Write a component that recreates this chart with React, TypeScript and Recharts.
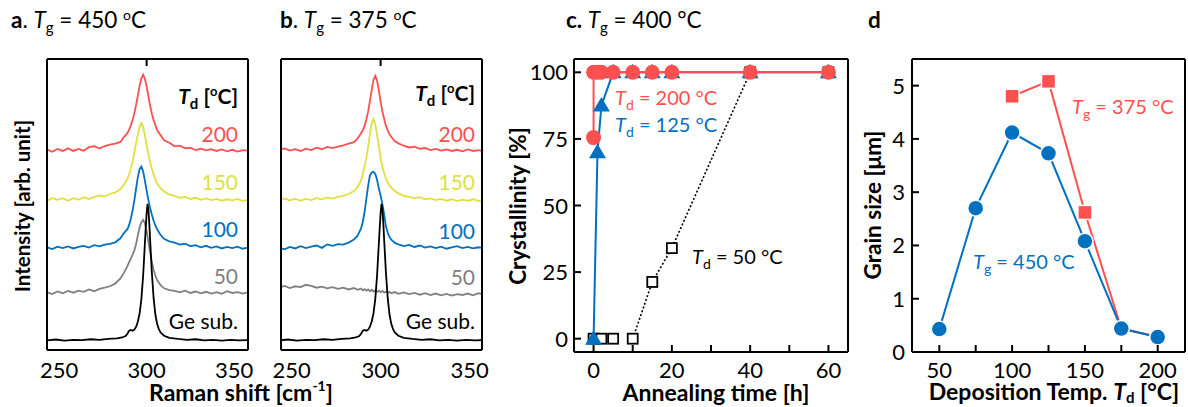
import React from 'react';
import { LineChart, ComposedChart, Line, XAxis, YAxis } from 'recharts';

const FONT = "Lato, 'Open Sans', sans-serif";
const RED = '#FF5050';
const BLUE = '#0070C0';
const YELLOW = '#E0E040';
const GRAY = '#808080';
const BLACK = '#000000';
const H = 407;

// ---------- Panels a / b : Raman spectra (stacked, arbitrary units) ----------
const ramanShift = [243,246,249,252,255,258,261,264,267,270,273,276,279,282,285,287,289,290,291,292,293,294,295,296,297,298,299,300,301,302,303,304,305,306,308,310,313,316,319,322,325,328,331,334,337,340,343,346,349,352,355,358];

const a200 = [68.9,68.1,69.1,68.4,69.3,68.4,69.1,68.5,69.7,70.0,69.2,70.1,70.6,70.9,71.5,73.2,74.5,75.7,77.2,79.1,81.4,84.3,87.5,90.8,93.4,94.6,93.2,90.6,87.2,84.0,81.2,79.0,77.3,75.6,73.8,72.1,71.2,70.0,70.2,69.3,69.5,68.7,69.2,68.6,69.0,68.4,68.9,68.3,68.8,68.2,68.7,68.5];
const a150 = [51.3,52.2,51.6,52.2,51.3,52.2,51.6,52.5,51.9,52.6,53.1,52.7,53.7,54.1,55.3,56.8,58.8,60.4,62.5,65.0,68.0,71.2,74.2,76.8,78.0,76.6,73.8,70.5,67.3,64.6,62.3,60.3,58.6,57.2,55.6,54.5,53.4,53.0,52.3,52.6,51.9,52.3,51.6,52.1,51.5,51.9,51.3,51.8,51.4,51.9,51.2,51.6];
const a100 = [35.3,34.7,35.5,35.0,35.6,34.9,35.4,35.8,35.2,36.0,35.6,36.2,36.5,37.0,38.4,40.2,41.5,43.0,45.2,48.0,51.5,55.6,59.5,62.2,63.0,61.4,58.2,54.8,51.6,48.8,46.5,44.4,42.8,41.5,39.5,38.2,37.3,36.9,36.2,36.5,35.7,36.0,35.3,35.8,35.1,35.6,34.9,35.4,35.0,35.5,34.8,35.2];
const a50 = [19.8,19.2,20.1,19.5,20.3,19.7,20.4,20.0,20.8,20.2,21.0,21.4,21.9,22.8,24.6,26.5,28.8,30.2,31.5,32.8,34.2,36.5,39.4,42.2,43.9,44.7,43.5,40.8,37.2,33.6,30.2,27.6,25.6,24.0,22.3,21.2,20.6,20.3,19.8,20.4,19.6,20.1,19.5,20.0,19.4,19.9,19.3,20.2,19.6,19.9,19.4,19.8];

const b200 = [68.8,69.3,68.5,69.0,68.4,69.2,68.7,69.5,69.0,69.8,69.4,69.9,70.3,70.9,71.4,72.6,74.5,75.5,77.0,79.3,82.0,85.6,89.4,92.8,94.2,92.6,89.2,85.4,82.0,79.4,77.0,75.5,74.1,73.3,71.7,71.0,70.2,69.6,69.9,69.1,69.4,68.7,69.1,68.5,68.9,68.4,68.8,68.3,68.9,68.4,68.7,68.3];
const b150 = [51.6,52.1,51.4,52.0,51.3,51.9,51.5,52.2,51.8,52.4,52.0,52.6,53.0,53.6,54.6,56.0,58.2,60.6,63.2,66.0,70.0,74.2,77.8,79.4,77.6,74.0,70.2,66.0,63.0,60.8,59.0,57.6,56.5,55.8,54.6,53.8,53.0,52.6,52.2,52.5,51.8,52.1,51.5,51.9,51.3,51.8,51.2,51.7,51.3,51.8,51.2,51.5];
const b100 = [35.2,34.6,35.4,34.9,35.7,35.0,35.5,35.9,35.1,36.3,35.8,36.4,36.2,36.9,38.0,39.2,41.8,44.0,47.5,52.0,56.5,60.0,61.0,61.2,60.5,58.5,55.6,53.0,50.2,46.5,42.5,40.3,38.8,37.9,36.8,36.3,35.7,36.1,35.4,35.9,35.2,35.6,35.0,35.5,34.8,35.3,35.7,35.0,35.4,34.9,35.3,35.0];
const b50 = [21.5,22.0,21.3,21.9,21.6,22.4,22.0,21.4,21.8,21.2,21.6,21.0,21.4,20.8,21.3,20.7,21.1,20.5,20.9,20.4,20.8,20.2,20.7,20.1,20.5,20.0,20.4,19.8,20.3,19.7,20.1,19.6,20.0,19.5,19.9,19.3,19.8,19.2,19.6,19.0,19.5,18.9,19.4,18.8,19.3,18.7,19.2,18.9,19.4,18.8,19.5,19.0];

const geSubShift = [243,248,253,258,263,268,273,278,283,286,288,289,290,291,292,293,294,295,296,297,298,299,299.5,300,300.5,301,301.5,302,303,304,305,306,307,308,310,313,318,323,328,333,338,343,348,353,358];
const geSubIntensity = [3.3,3.6,3.2,3.5,3.4,3.7,3.5,3.8,4.0,4.3,4.8,5.6,6.6,6.9,6.6,7.0,8.0,9.8,12.6,17.5,25.5,36.5,42.0,47.0,50.2,48.5,43.8,37.8,26.5,17.8,12.2,9.0,7.2,6.0,4.9,4.2,3.8,3.5,3.7,3.3,3.5,3.2,3.5,3.3,3.4];

const ramanTicks = [250, 300, 350];

// ---------- Panel c : crystallinity vs annealing time ----------
const time200 = [0, 0, 1, 2, 5, 10, 15, 20, 40, 60];
const cryst200 = [75.5, 100, 100, 100, 100, 100, 100, 100, 100, 100];
const time125 = [0, 1, 2, 5, 10, 15, 20, 40, 60];
const cryst125 = [0, 70, 87.5, 100, 100, 100, 100, 100, 100];
const time50 = [0, 2, 5, 10, 15, 20, 40, 60];
const cryst50 = [0, 0, 0, 0, 21.3, 34, 100, 100];
const timeTicks = [0, 10, 20, 30, 40, 50, 60];
const crystTicks = [0, 25, 50, 75, 100];

// ---------- Panel d : grain size vs deposition temperature ----------
const depTemp450 = [50, 75, 100, 125, 150, 175, 200];
const grain450 = [0.43, 2.7, 4.12, 3.73, 2.08, 0.44, 0.28];
const depTemp375 = [100, 125, 150, 175, 200];
const grain375 = [4.8, 5.08, 2.62, 0.44, 0.28];
const tempTicks = [50, 75, 100, 125, 150, 175, 200];
const grainTicks = [0, 1, 2, 3, 4, 5];

const pts = (xs: number[], ys: number[]) => xs.map((x, i) => ({ x, y: ys[i] }));

const AXIS = { stroke: '#000', strokeWidth: 2 };
const TICK_LEN = 7;
const TICK_FS = 22;

const bottomTick = (labelled: (v: number) => boolean, offset: number, len: number) => (p: any) => (
  <g>
    {len > 0 ? <line x1={p.x} y1={p.y} x2={p.x} y2={p.y - len} stroke="#000" strokeWidth={2} /> : null}
    {labelled(p.payload.value) ? (
      <text x={p.x} y={p.y + offset} textAnchor="middle" fontSize={TICK_FS} fontFamily={FONT} fill="#000">
        {p.payload.value}
      </text>
    ) : null}
  </g>
);
const topTick = (p: any) => (
  <line x1={p.x} y1={p.y} x2={p.x} y2={p.y + TICK_LEN} stroke="#000" strokeWidth={2} />
);
const leftTick = (gap: number) => (p: any) => (
  <g>
    <line x1={p.x} y1={p.y} x2={p.x + TICK_LEN} y2={p.y} stroke="#000" strokeWidth={2} />
    <text x={p.x - gap} y={p.y + 8} textAnchor="end" fontSize={TICK_FS} fontFamily={FONT} fill="#000">
      {p.payload.value}
    </text>
  </g>
);
const rightTick = (p: any) => (
  <line x1={p.x} y1={p.y} x2={p.x - TICK_LEN} y2={p.y} stroke="#000" strokeWidth={2} />
);

const circleDot = (color: string, r: number, halo: boolean) => (p: any) => (
  <circle key={`c-${color}-${p.index}`} cx={p.cx} cy={p.cy} r={r} fill={color}
    stroke={halo ? '#fff' : 'none'} strokeWidth={halo ? 1.5 : 0} />
);
const squareDot = (fill: string, stroke: string, s: number, sw: number) => (p: any) => (
  <rect key={`s-${fill}-${p.index}`} x={p.cx - s / 2} y={p.cy - s / 2} width={s} height={s}
    fill={fill} stroke={stroke} strokeWidth={sw} />
);
const triangleDot = (color: string) => (p: any) => (
  <path key={`t-${p.index}`}
    d={`M${p.cx},${p.cy - 8.5} L${p.cx + 8.5},${p.cy + 6} L${p.cx - 8.5},${p.cy + 6} Z`}
    fill={color} />
);

type Series = { data: { x: number; y: number }[]; color: string };

// Axes get a 1px thickness (Recharts skips 0-sized axes); margins are reduced by 1 to compensate.
function SpectraChart({ left, width, ml, mr, domain, series }: {
  left: number; width: number; ml: number; mr: number; domain: [number, number]; series: Series[];
}) {
  return (
    <div style={{ position: 'absolute', left, top: 0 }}>
      <LineChart width={width} height={H} margin={{ top: 58, bottom: 56, left: ml - 1, right: mr - 1 }}>
        <XAxis xAxisId="b" type="number" dataKey="x" domain={domain} allowDataOverflow ticks={ramanTicks}
          interval={0} height={1} tickSize={0} tickMargin={0} tickLine={false} axisLine={AXIS}
          tick={bottomTick(() => true, 28, 0)} />
        <XAxis xAxisId="t" orientation="top" type="number" dataKey="x" domain={domain} allowDataOverflow
          ticks={[300]} interval={0} height={1} tickSize={0} tickMargin={0} tickLine={false} axisLine={AXIS}
          tick={topTick} />
        <YAxis yAxisId="l" type="number" domain={[0, 100]} allowDataOverflow width={1} tick={false}
          tickLine={false} axisLine={AXIS} />
        <YAxis yAxisId="r" orientation="right" type="number" domain={[0, 100]} allowDataOverflow width={1}
          tick={false} tickLine={false} axisLine={AXIS} />
        {series.map((s, i) => (
          <Line key={i} xAxisId="b" yAxisId="l" data={s.data} dataKey="y" type="linear" stroke={s.color}
            strokeWidth={1.8} dot={false} isAnimationActive={false} />
        ))}
      </LineChart>
    </div>
  );
}

const seriesA: Series[] = [
  { data: pts(ramanShift, a200), color: RED },
  { data: pts(ramanShift, a150), color: YELLOW },
  { data: pts(ramanShift, a100), color: BLUE },
  { data: pts(ramanShift, a50), color: GRAY },
  { data: pts(geSubShift, geSubIntensity), color: BLACK },
];
const seriesB: Series[] = [
  { data: pts(ramanShift, b200), color: RED },
  { data: pts(ramanShift, b150), color: YELLOW },
  { data: pts(ramanShift, b100), color: BLUE },
  { data: pts(ramanShift, b50), color: GRAY },
  { data: pts(geSubShift, geSubIntensity), color: BLACK },
];

const c200 = pts(time200, cryst200);
const c125 = pts(time125, cryst125);
const c50 = pts(time50, cryst50);
const c50Line = c50.filter((d) => d.x >= 10);
const d450 = pts(depTemp450, grain450);
const d375 = pts(depTemp375, grain375);

function Overlay() {
  const base = { fontFamily: FONT, fill: '#000' } as const;
  return (
    <svg width={1188} height={H} style={{ position: 'absolute', left: 0, top: 0, pointerEvents: 'none', whiteSpace: 'pre' }}>
      {/* panel titles */}
      <text x={11} y={28} fontSize={22.5} {...base}>
        <tspan fontWeight="bold">a</tspan><tspan>. </tspan><tspan fontStyle="italic">T</tspan>
        <tspan fontSize={15} dy={5}>g</tspan><tspan dy={-5}> = 450 </tspan>
        <tspan fontSize={14} dy={-8}>o</tspan><tspan dy={8}>C</tspan>
      </text>
      <text x={280} y={28} fontSize={22.5} {...base}>
        <tspan fontWeight="bold">b</tspan><tspan>. </tspan><tspan fontStyle="italic">T</tspan>
        <tspan fontSize={15} dy={5}>g</tspan><tspan dy={-5}> = 375 </tspan>
        <tspan fontSize={14} dy={-8}>o</tspan><tspan dy={8}>C</tspan>
      </text>
      <text x={566} y={28} fontSize={22.5} {...base}>
        <tspan fontWeight="bold">c. </tspan><tspan fontStyle="italic">T</tspan>
        <tspan fontSize={15} dy={5}>g</tspan><tspan dy={-5}> = 400 °C</tspan>
      </text>
      <text x={868} y={28} fontSize={22.5} fontWeight="bold" {...base}>d</text>

      {/* panel a / b labels */}
      {[238, 475].map((rx, k) => (
        <g key={k}>
          <text x={rx} y={k === 0 ? 104 : 101} textAnchor="end" fontSize={21} fontWeight="bold" {...base}>
            <tspan fontStyle="italic">T</tspan><tspan fontSize={15} dy={5}>d</tspan>
            <tspan dy={-5}> [</tspan><tspan fontSize={13} dy={-8}>o</tspan><tspan dy={8}>C]</tspan>
          </text>
          <text x={rx} y={142} textAnchor="end" fontSize={21} fontFamily={FONT} fill={RED}>200</text>
          <text x={rx} y={190} textAnchor="end" fontSize={21} fontFamily={FONT} fill={YELLOW}>150</text>
          <text x={rx} y={k === 0 ? 237 : 239} textAnchor="end" fontSize={21} fontFamily={FONT} fill={BLUE}>100</text>
          <text x={rx} y={k === 0 ? 284 : 285} textAnchor="end" fontSize={21} fontFamily={FONT} fill={GRAY}>50</text>
          <text x={rx} y={329} textAnchor="end" fontSize={21} {...base}>Ge sub.</text>
        </g>
      ))}

      {/* axis titles */}
      <text x={30} y={206} transform="rotate(-90 30 206)" textAnchor="middle" fontSize={20.5} fontWeight="bold" {...base}>
        Intensity [arb. unit]
      </text>
      <text x={241} y={401} textAnchor="middle" fontSize={23} fontWeight="bold" {...base}>
        <tspan>Raman shift [cm</tspan><tspan fontSize={14} dy={-10}>-1</tspan><tspan dy={10}>]</tspan>
      </text>
      <text x={526} y={206} transform="rotate(-90 526 206)" textAnchor="middle" fontSize={22.5} fontWeight="bold" {...base}>
        Crystallinity [%]
      </text>
      <text x={716} y={401} textAnchor="middle" fontSize={23} fontWeight="bold" {...base}>
        Annealing time [h]
      </text>
      <text x={881} y={205} transform="rotate(-90 881 205)" textAnchor="middle" fontSize={22.5} fontWeight="bold" {...base}>
        Grain size [μm]
      </text>
      <text x={1054} y={400} textAnchor="middle" fontSize={23} fontWeight="bold" {...base}>
        <tspan>Deposition Temp. </tspan><tspan fontStyle="italic">T</tspan>
        <tspan fontSize={15} dy={3}>d</tspan><tspan dy={-3}> [°C]</tspan>
      </text>

      {/* panel c annotations */}
      <text x={615} y={105} fontSize={20} fontFamily={FONT} fill={RED}>
        <tspan fontStyle="italic">T</tspan><tspan fontSize={14} dy={5}>d</tspan><tspan dy={-5}> = 200 °C</tspan>
      </text>
      <text x={615} y={132} fontSize={20} fontFamily={FONT} fill={BLUE}>
        <tspan fontStyle="italic">T</tspan><tspan fontSize={14} dy={5}>d</tspan><tspan dy={-5}> = 125 °C</tspan>
      </text>
      <text x={692} y={264} fontSize={20} fontFamily={FONT} fill="#000">
        <tspan fontStyle="italic">T</tspan><tspan fontSize={14} dy={5}>d</tspan><tspan dy={-5}> = 50 °C</tspan>
      </text>

      {/* panel d annotations */}
      <text x={1072} y={114} fontSize={20} fontFamily={FONT} fill={RED}>
        <tspan fontStyle="italic">T</tspan><tspan fontSize={14} dy={5}>g</tspan><tspan dy={-5}> = 375 °C</tspan>
      </text>
      <text x={973} y={269} fontSize={20} fontFamily={FONT} fill={BLUE}>
        <tspan fontStyle="italic">T</tspan><tspan fontSize={14} dy={5}>g</tspan><tspan dy={-5}> = 450 °C</tspan>
      </text>
    </svg>
  );
}

export default function App() {
  return (
    <div style={{ position: 'absolute', left: 0, top: 0, width: 1188, height: H, background: '#fff', fontFamily: FONT }}>
      <SpectraChart left={0} width={270} ml={47} mr={22} domain={[243, 358]} series={seriesA} />
      <SpectraChart left={270} width={230} ml={11} mr={18} domain={[244, 357]} series={seriesB} />

      <div style={{ position: 'absolute', left: 500, top: 0 }}>
        <ComposedChart width={350} height={H} margin={{ top: 58, bottom: 54, left: 73, right: 1 }}>
          <XAxis xAxisId="b" type="number" dataKey="x" domain={[-5, 65]} ticks={timeTicks} interval={0}
            height={1} tickSize={0} tickMargin={0} tickLine={false} axisLine={AXIS}
            tick={bottomTick((v) => v % 20 === 0, 26, TICK_LEN)} />
          <XAxis xAxisId="t" orientation="top" type="number" dataKey="x" domain={[-5, 65]} ticks={timeTicks}
            interval={0} height={1} tickSize={0} tickMargin={0} tickLine={false} axisLine={AXIS} tick={topTick} />
          <YAxis yAxisId="l" type="number" domain={[-5, 105]} ticks={crystTicks} interval={0} width={1}
            tickSize={0} tickMargin={0} tickLine={false} axisLine={AXIS} tick={leftTick(6)} />
          <YAxis yAxisId="r" orientation="right" type="number" domain={[-5, 105]} ticks={crystTicks} interval={0}
            width={1} tickSize={0} tickMargin={0} tickLine={false} axisLine={AXIS} tick={rightTick} />
          <Line xAxisId="b" yAxisId="l" data={c50Line} dataKey="y" type="linear" stroke="#000" strokeWidth={1.6}
            strokeDasharray="2 2" dot={false} isAnimationActive={false} />
          <Line xAxisId="b" yAxisId="l" data={c50} dataKey="y" type="linear" stroke="none"
            dot={squareDot('#fff', '#000', 10, 1.8)} isAnimationActive={false} />
          <Line xAxisId="b" yAxisId="l" data={c125} dataKey="y" type="linear" stroke={BLUE} strokeWidth={2}
            dot={triangleDot(BLUE)} isAnimationActive={false} />
          <Line xAxisId="b" yAxisId="l" data={c200} dataKey="y" type="linear" stroke={RED} strokeWidth={2}
            dot={circleDot(RED, 7.5, false)} isAnimationActive={false} />
        </ComposedChart>
      </div>

      <div style={{ position: 'absolute', left: 850, top: 0 }}>
        <ComposedChart width={338} height={H} margin={{ top: 58, bottom: 54, left: 61, right: 2 }}>
          <XAxis xAxisId="b" type="number" dataKey="x" domain={[31.25, 218.75]} ticks={tempTicks} interval={0}
            height={1} tickSize={0} tickMargin={0} tickLine={false} axisLine={AXIS}
            tick={bottomTick((v) => v % 50 === 0, 26, TICK_LEN)} />
          <XAxis xAxisId="t" orientation="top" type="number" dataKey="x" domain={[31.25, 218.75]} ticks={tempTicks}
            interval={0} height={1} tickSize={0} tickMargin={0} tickLine={false} axisLine={AXIS} tick={topTick} />
          <YAxis yAxisId="l" type="number" domain={[0, 5.5]} ticks={grainTicks} interval={0} width={1}
            tickSize={0} tickMargin={0} tickLine={false} axisLine={AXIS} tick={leftTick(7)} />
          <YAxis yAxisId="r" orientation="right" type="number" domain={[0, 5.5]} ticks={grainTicks} interval={0}
            width={1} tickSize={0} tickMargin={0} tickLine={false} axisLine={AXIS} tick={rightTick} />
          <Line xAxisId="b" yAxisId="l" data={d375} dataKey="y" type="linear" stroke={RED} strokeWidth={2}
            dot={squareDot(RED, '#fff', 14, 1.5)} isAnimationActive={false} />
          <Line xAxisId="b" yAxisId="l" data={d450} dataKey="y" type="linear" stroke={BLUE} strokeWidth={2}
            dot={circleDot(BLUE, 8, true)} isAnimationActive={false} />
        </ComposedChart>
      </div>

      <Overlay />
    </div>
  );
}
